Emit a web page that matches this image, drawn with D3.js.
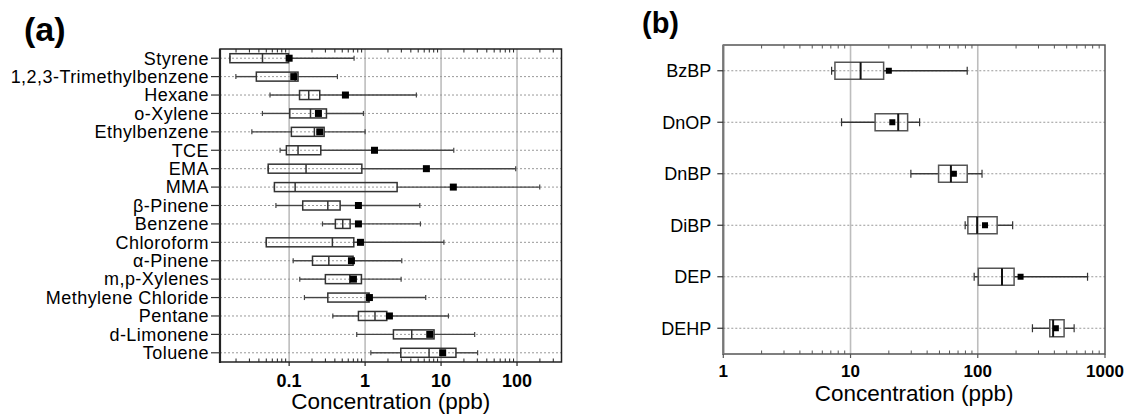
<!DOCTYPE html>
<html>
<head>
<meta charset="utf-8">
<script src="https://cdn.jsdelivr.net/npm/d3@7"></script>
<style>
  body { margin: 0; background: #fff; }
  text { font-family: "Liberation Sans", Arial, sans-serif; }
</style>
</head>
<body>
<div id="chart-area"></div>
<script>
// panel (a): VOCs
const vocNames = ["Styrene", "1,2,3-Trimethylbenzene", "Hexane", "o-Xylene", "Ethylbenzene", "TCE", "EMA", "MMA",
  "\u03B2-Pinene", "Benzene", "Chloroform", "\u03B1-Pinene", "m,p-Xylenes", "Methylene Chloride", "Pentane", "d-Limonene", "Toluene"];
const vocMin  = [0.0166, 0.0199, 0.056, 0.0445, 0.0323, 0.076, 0.053, 0.064, 0.067, 0.275, 0.050, 0.113, 0.138, 0.159, 0.376, 0.776, 1.19];
const vocQ1   = [0.0166, 0.037, 0.137, 0.102, 0.107, 0.092, 0.053, 0.064, 0.151, 0.406, 0.050, 0.203, 0.30, 0.323, 0.817, 2.36, 2.95];
const vocMed  = [0.0446, 0.12, 0.181, 0.191, 0.215, 0.131, 0.167, 0.12, 0.323, 0.508, 0.371, 0.333, 0.628, 1.10, 1.35, 4.11, 6.95];
const vocQ3   = [0.098, 0.131, 0.253, 0.31, 0.289, 0.261, 0.906, 2.64, 0.469, 0.635, 0.71, 0.695, 0.895, 1.13, 1.93, 8.09, 15.7];
const vocMax  = [0.716, 0.432, 4.73, 0.95, 1.0, 14.7, 96, 199, 5.25, 5.35, 10.9, 3.04, 2.98, 6.28, 12.5, 27.7, 30.3];
const vocMean = [0.10, 0.115, 0.551, 0.243, 0.253, 1.33, 6.41, 14.5, 0.817, 0.817, 0.869, 0.661, 0.702, 1.14, 2.09, 7.1, 10.5];
const vocTicks = [0.1, 1, 10, 100];

// panel (b): phthalates
const paeNames = ["BzBP", "DnOP", "DnBP", "DiBP", "DEP", "DEHP"];
const paeMin  = [7.1, 8.5, 29.8, 79.6, 93.7, 269];
const paeQ1   = [7.54, 15.6, 49.2, 83.6, 101, 368];
const paeMed  = [12.0, 23.7, 61.5, 98.9, 155, 391];
const paeQ3   = [18.2, 28.1, 82.6, 142, 193, 477];
const paeMax  = [82.6, 34.9, 108, 188, 729, 572];
const paeMean = [20.0, 21.3, 64.9, 114, 217, 411];
const paeTicks = [1, 10, 100, 1000];

const svg = d3.select("#chart-area").append("svg")
  .attr("width", 1126).attr("height", 414);

function drawPanel(p) {
  const x = d3.scaleLog().domain(p.domain).range([p.left, p.right]);
  const y = d3.scalePoint().domain(p.names).range([p.top, p.bottom]).padding(0.5);
  const g = svg.append("g");
  const rows = p.names.map((n, i) => ({
    name: n, min: p.min[i], q1: p.q1[i], med: p.med[i], q3: p.q3[i], max: p.max[i], mean: p.mean[i]
  }));

  // vertical grid at decades
  g.selectAll(".vgrid").data(p.ticks.filter(t => x(t) > p.left + 1 && x(t) < p.right - 1)).enter()
    .append("line")
    .attr("x1", d => x(d)).attr("x2", d => x(d))
    .attr("y1", p.top).attr("y2", p.bottom)
    .attr("stroke", "#bdbdbd").attr("stroke-width", 1.6);

  // horizontal dotted lines
  g.selectAll(".hgrid").data(rows).enter().append("line")
    .attr("x1", p.left).attr("x2", p.right)
    .attr("y1", d => y(d.name)).attr("y2", d => y(d.name))
    .attr("stroke", "#999").attr("stroke-width", 1).attr("stroke-dasharray", "2,2");

  // whiskers
  g.selectAll(".wl").data(rows).enter().append("line")
    .attr("x1", d => x(d.min)).attr("x2", d => x(d.q1))
    .attr("y1", d => y(d.name)).attr("y2", d => y(d.name))
    .attr("stroke", p.whisk).attr("stroke-width", 1.4);
  g.selectAll(".wr").data(rows).enter().append("line")
    .attr("x1", d => x(d.q3)).attr("x2", d => x(d.max))
    .attr("y1", d => y(d.name)).attr("y2", d => y(d.name))
    .attr("stroke", p.whisk).attr("stroke-width", 1.4);
  ["min", "max"].forEach(k => {
    g.selectAll(".cap" + k).data(rows).enter().append("line")
      .attr("x1", d => x(d[k])).attr("x2", d => x(d[k]))
      .attr("y1", d => y(d.name) - p.cap / 2).attr("y2", d => y(d.name) + p.cap / 2)
      .attr("stroke", p.whisk).attr("stroke-width", 1.2);
  });

  // boxes
  g.selectAll(".box").data(rows).enter().append("rect")
    .attr("x", d => x(d.q1)).attr("width", d => x(d.q3) - x(d.q1))
    .attr("y", d => y(d.name) - p.boxH / 2).attr("height", p.boxH)
    .attr("fill", "none").attr("stroke", p.boxStroke).attr("stroke-width", 1.5);
  g.selectAll(".med").data(rows).enter().append("line")
    .attr("x1", d => x(d.med)).attr("x2", d => x(d.med))
    .attr("y1", d => y(d.name) - p.boxH / 2).attr("y2", d => y(d.name) + p.boxH / 2)
    .attr("stroke", p.medStroke).attr("stroke-width", p.medW);

  // mean squares
  g.selectAll(".mean").data(rows).enter().append("rect")
    .attr("x", d => x(d.mean) - p.sq / 2).attr("y", d => y(d.name) - p.sq / 2)
    .attr("width", p.sq).attr("height", p.sq)
    .attr("fill", "#000");

  // frame
  g.append("rect")
    .attr("x", p.left).attr("y", p.top)
    .attr("width", p.right - p.left).attr("height", p.bottom - p.top)
    .attr("fill", "none").attr("stroke", p.frame).attr("stroke-width", 1.5);
  g.append("line")
    .attr("x1", p.left).attr("x2", p.left).attr("y1", p.top).attr("y2", p.bottom + 1)
    .attr("stroke", p.frameLeft).attr("stroke-width", 2.2);

  // minor ticks, inward, top and bottom
  const minor = x.ticks().filter(t => !p.ticks.includes(t));
  [[p.top, 1], [p.bottom, -1]].forEach(([yy, dir]) => {
    g.selectAll(null).data(minor).enter().append("line")
      .attr("x1", d => x(d)).attr("x2", d => x(d))
      .attr("y1", yy).attr("y2", yy + dir * 3.5)
      .attr("stroke", p.frame).attr("stroke-width", 1);
  });
  // major ticks, outward at the bottom
  g.selectAll(null).data(p.ticks).enter().append("line")
    .attr("x1", d => x(d)).attr("x2", d => x(d))
    .attr("y1", p.bottom).attr("y2", p.bottom + 4)
    .attr("stroke", p.frame).attr("stroke-width", 1.2);

  // tick labels
  g.selectAll(".tl").data(p.ticks).enter().append("text")
    .attr("x", d => x(d)).attr("y", p.tickY)
    .attr("text-anchor", "middle").attr("font-weight", "bold")
    .attr("font-size", p.tickFont).attr("fill", "#000")
    .text(d => d3.format("~g")(d));

  // category ticks and labels
  g.selectAll(".ct").data(rows).enter().append("line")
    .attr("x1", p.left - p.catTick).attr("x2", p.left)
    .attr("y1", d => y(d.name)).attr("y2", d => y(d.name))
    .attr("stroke", "#333").attr("stroke-width", 1.2);
  g.selectAll(".cl").data(rows).enter().append("text")
    .attr("x", p.left - p.catTick - p.catGap).attr("y", d => y(d.name))
    .attr("dy", "0.35em").attr("text-anchor", "end")
    .attr("font-size", p.catFont).attr("letter-spacing", p.catSpacing).attr("fill", "#000")
    .text(d => d.name);

  // axis title and panel label
  g.append("text")
    .attr("x", (p.left + p.right) / 2).attr("y", p.titleY)
    .attr("text-anchor", "middle").attr("font-size", 22.5).attr("fill", "#000")
    .text("Concentration (ppb)");
  g.append("text")
    .attr("x", p.labX).attr("y", p.labY)
    .attr("font-size", p.labFont).attr("font-weight", "bold").attr("fill", "#000")
    .text(p.label);
}

drawPanel({
  names: vocNames, min: vocMin, q1: vocQ1, med: vocMed, q3: vocQ3, max: vocMax, mean: vocMean,
  ticks: vocTicks, domain: [0.0123, 385],
  left: 220, right: 561.5, top: 49, bottom: 362,
  boxH: 9, cap: 5, sq: 7, whisk: "#444", boxStroke: "#333", medStroke: "#333", medW: 1.5,
  frame: "#222", frameLeft: "#222",
  tickY: 387, tickFont: 18, catFont: 18, catSpacing: 0.45, catTick: 9, catGap: 2,
  titleY: 409, label: "(a)", labX: 24, labY: 41, labFont: 34
});

drawPanel({
  names: paeNames, min: paeMin, q1: paeQ1, med: paeMed, q3: paeQ3, max: paeMax, mean: paeMean,
  ticks: paeTicks, domain: [1, 1000],
  left: 723.3, right: 1105, top: 45, bottom: 354,
  boxH: 17, cap: 8, sq: 6, whisk: "#333", boxStroke: "#555", medStroke: "#111", medW: 2,
  frame: "#555", frameLeft: "#777",
  tickY: 377, tickFont: 17, catFont: 18, catSpacing: 0, catTick: 6, catGap: 6,
  titleY: 401, label: "(b)", labX: 642, labY: 33, labFont: 29
});
</script>
</body>
</html>
